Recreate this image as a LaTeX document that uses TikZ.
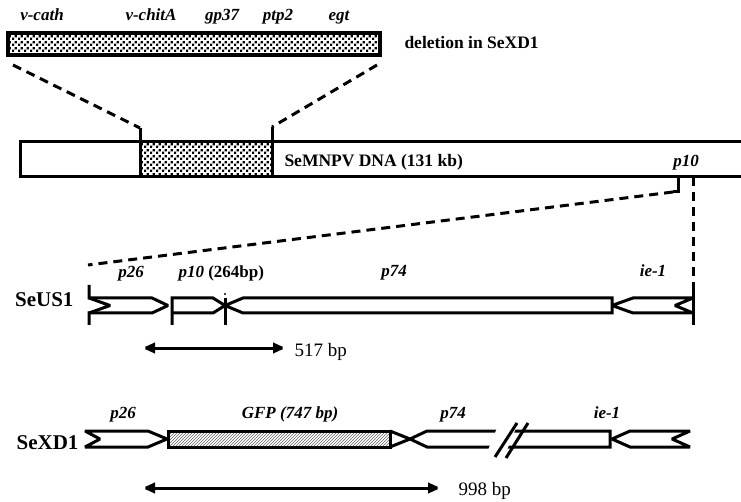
\documentclass[tikz,border=0pt]{standalone}
\usepackage{fontspec}
\setmainfont{Liberation Serif}
\usetikzlibrary{patterns,arrows.meta}

% Punktraster wie im Original:
\pgfdeclarepatternformonly{raster}{\pgfpointorigin}{\pgfpoint{6pt}{6pt}}{\pgfpoint{6pt}{6pt}}{
  \pgfpathrectangle{\pgfpoint{0pt}{0pt}}{\pgfpoint{2.6pt}{2.6pt}}
  \pgfpathrectangle{\pgfpoint{3pt}{3pt}}{\pgfpoint{2.6pt}{2.6pt}}
  \pgfusepath{fill}}

\begin{document}
\begin{tikzpicture}[x=1pt,y=-1pt,line width=3pt,line join=miter,miter limit=2,
  gen/.style={font=\fontsize{17}{20}\selectfont\bfseries\itshape,anchor=base,inner sep=0pt},
  fett/.style={font=\fontsize{17.5}{20}\selectfont\bfseries,anchor=base west,inner sep=0pt},
  stamm/.style={font=\fontsize{21}{24}\selectfont\bfseries,anchor=base east,inner sep=0pt},
  laenge/.style={font=\fontsize{19}{22}\selectfont,anchor=base west,inner sep=0pt},
  strich/.style={dash pattern=on 9pt off 6pt},
  punkte/.style={pattern=raster},
  schraffur/.style={pattern=north east lines,pattern color=black!60},
  pfeil/.style={{Latex[length=15pt,width=12pt]}-{Latex[length=15pt,width=12pt]}}]
\useasboundingbox (0,0) rectangle (741,502);
\clip (0,0) rectangle (741,502);
% Deletion oben:
\draw [punkte,line width=3.4pt] (8,33) rectangle (380,55);
\node [gen] (vcath) at (42,21) {v-cath};
\node [gen] (vchitA) at (151,21) {v-chitA};
\node [gen] (gp37) at (222,21) {gp37};
\node [gen] (ptp2) at (278,21) {ptp2};
\node [gen] (egt) at (339,21) {egt};
\node [fett] (del) at (403,49) {deletion in SeXD1};
% Genom:
\draw (741,142) -- (20,142) -- (20,177) -- (741,177);
\draw [punkte] (140,142) rectangle (272,177);
\node [fett] (dna) at (283,167) {SeMNPV DNA (131 kb)};
\node [gen] (p10g) at (686,167) {p10};
% Verbindungen:
\coordinate (dl) at (13,65);
\coordinate (dr) at (377,65);
\coordinate (gl) at (140,128);
\coordinate (gr) at (272,127);
\draw [strich] (dl) -- (gl);
\draw (gl) -- (140,142);
\draw [strich] (dr) -- (gr);
\draw (gr) -- (272,142);
\coordinate (pl) at (673,192);
\coordinate (pr) at (693,177);
\coordinate (ul) at (88,265);
\coordinate (ur) at (693,287);
\draw (678,177) |- (pl);
\draw [strich] (pl) -- (ul);
\draw [strich] (pr) -- (ur);
% SeUS1:
\node [stamm] (us) at (75,307) {SeUS1};
\draw (89,285) -- (89,298) -- (152,298) -- (168,305.5) -- (152,313) -- (89,313) -- (89,325);
\draw (89,298) -- (110,305.5) -- (89,313);
\draw (172,325) -- (172,298) -- (213,298) -- (225,305.5) -- (213,313) -- (172,313);
\draw (225,298) -- (225,325);
\fill (225,294) circle (1.2pt);
\draw (225,305.5) -- (243,298) -- (612,298) -- (612,313) -- (243,313) -- cycle;
\draw (612,305.5) -- (633,298) -- (693,298) -- (675,305.5) -- (693,313) -- (633,313) -- cycle;
\draw (ur) -- (693,325);
\node [gen] (p26a) at (131,278) {p26};
\node [fett,font=\fontsize{17}{20}\selectfont\bfseries] (p10a) at (177,278) {\textit{p10} (264bp)};
\node [gen] (p74a) at (394,277) {p74};
\node [gen] (iea) at (653,277) {ie-1};
\coordinate (a1) at (140,348);
\coordinate (a2) at (288,348);
\draw [pfeil] (a1) -- (a2);
\node [laenge] (l517) at (293,356) {517 bp};
% SeXD1:
\node [stamm] (xd) at (80,449) {SeXD1};
\draw (85,431) -- (148,431) -- (167,439) -- (148,447) -- (85,447) -- (100,439) -- cycle;
\draw [schraffur] (168,431) rectangle (390,447);
\draw (390,431) -- (410,439) -- (390,447);
\draw (410,439) -- (427,431) -- (610,431) -- (610,447) -- (427,447) -- cycle;
\fill [white] (497,428) -- (516,428) -- (507,450) -- (488,450) -- cycle;
\draw (495,457) -- (517,423);
\draw (506,458) -- (528,423);
\draw (612,439) -- (630,431) -- (690,431) -- (672,439) -- (690,447) -- (630,447) -- cycle;
\node [gen] (p26b) at (123,418) {p26};
\node [gen] (gfp) at (290,418) {GFP (747 bp)};
\node [gen] (p74b) at (453,418) {p74};
\node [gen] (ieb) at (607,418) {ie-1};
\coordinate (b1) at (140,488);
\coordinate (b2) at (443,488);
\draw [pfeil] (b1) -- (b2);
\node [laenge] (l998) at (457,495) {998 bp};
\end{tikzpicture}
\end{document}
